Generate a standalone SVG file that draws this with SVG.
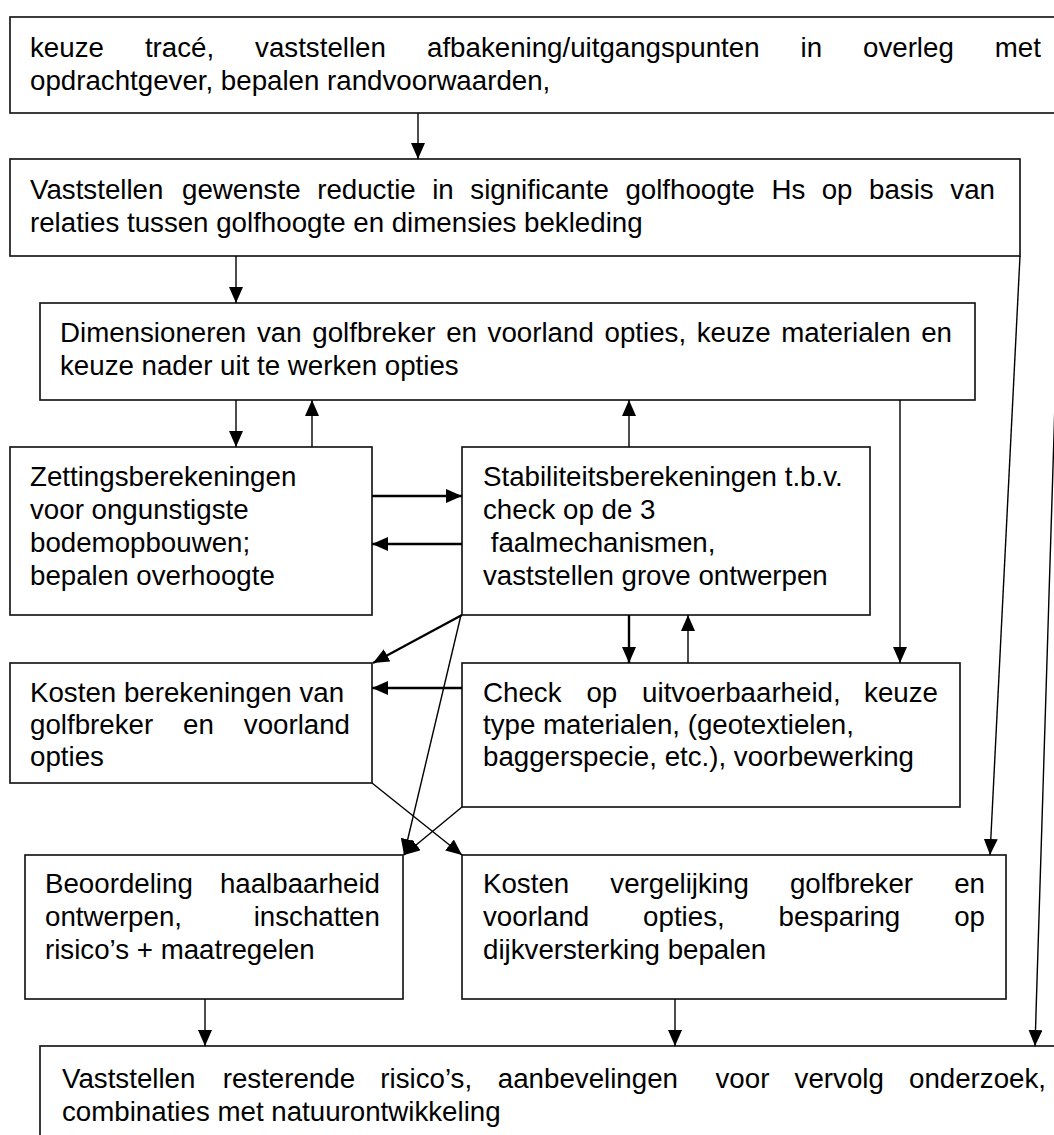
<svg xmlns="http://www.w3.org/2000/svg" width="1054" height="1135" viewBox="0 0 1054 1135">
<style>
.box{fill:#fff;stroke:#1a1a1a;stroke-width:1.7}
text{font-family:"Liberation Sans",Arial,sans-serif;font-size:27.7px;fill:#000}
.c{fill:none;stroke:#000;stroke-width:1.4}
.t{stroke-width:2.4}
</style>
<defs>
<marker id="ah" markerUnits="userSpaceOnUse" markerWidth="16" markerHeight="14" refX="16" refY="7" orient="auto">
<path d="M0,0 L16,7 L0,14 z" fill="#000"/>
</marker>
</defs>
<rect width="1054" height="1135" fill="#fff"/>

<g id="n1">
<rect class="box" x="10" y="17" width="1070" height="96"/>
<text y="57"><tspan x="30">keuze</tspan><tspan x="144.9">tracé,</tspan><tspan x="255.1">vaststellen</tspan><tspan x="427">afbakening/uitgangspunten</tspan><tspan x="800.5">in</tspan><tspan x="863">overleg</tspan><tspan x="994.8">met</tspan></text>
<text x="30" y="90">opdrachtgever, bepalen randvoorwaarden,</text>
</g>

<g id="n2">
<rect class="box" x="10" y="159" width="1010" height="97"/>
<text y="199"><tspan x="30">Vaststellen</tspan><tspan x="182">gewenste</tspan><tspan x="317.2">reductie</tspan><tspan x="432.2">in</tspan><tspan x="470.3">significante</tspan><tspan x="625.4">golfhoogte</tspan><tspan x="771.4">Hs</tspan><tspan x="821.7">op</tspan><tspan x="869">basis</tspan><tspan x="950.3">van</tspan></text>
<text x="30" y="232">relaties tussen golfhoogte en dimensies bekleding</text>
</g>

<g id="n3">
<rect class="box" x="40" y="303" width="935" height="97"/>
<text y="342"><tspan x="60">Dimensioneren</tspan><tspan x="257">van</tspan><tspan x="312.3">golfbreker</tspan><tspan x="446.2">en</tspan><tspan x="487.6">voorland</tspan><tspan x="604.5">opties,</tspan><tspan x="696.7">keuze</tspan><tspan x="781.3">materialen</tspan><tspan x="921.2">en</tspan></text>
<text x="60" y="375">keuze nader uit te werken opties</text>
</g>

<g id="n4">
<rect class="box" x="10" y="447" width="362" height="168"/>
<text x="30" y="486">Zettingsberekeningen</text>
<text x="30" y="519">voor ongunstigste</text>
<text x="30" y="552">bodemopbouwen;</text>
<text x="30" y="585">bepalen overhoogte</text>
</g>

<g id="n5">
<rect class="box" x="462" y="447" width="408" height="168"/>
<text x="483" y="486">Stabiliteitsberekeningen t.b.v.</text>
<text x="483" y="519">check op de 3</text>
<text x="490.7" y="552">faalmechanismen,</text>
<text x="483" y="585">vaststellen grove ontwerpen</text>
</g>

<g id="n6">
<rect class="box" x="10" y="663" width="362" height="120"/>
<text x="30" y="702">Kosten berekeningen van</text>
<text y="734"><tspan x="30">golfbreker</tspan><tspan x="183.1">en</tspan><tspan x="243.8">voorland</tspan></text>
<text x="30" y="766">opties</text>
</g>

<g id="n7">
<rect class="box" x="462" y="663" width="498" height="144"/>
<text y="702"><tspan x="483">Check</tspan><tspan x="586.4">op</tspan><tspan x="642.1">uitvoerbaarheid,</tspan><tspan x="864.1">keuze</tspan></text>
<text x="483" y="734">type materialen, (geotextielen,</text>
<text x="483" y="766">baggerspecie, etc.), voorbewerking</text>
</g>

<g id="n8">
<rect class="box" x="25" y="855" width="378" height="144"/>
<text y="893"><tspan x="45">Beoordeling</tspan><tspan x="219.9">haalbaarheid</tspan></text>
<text y="926"><tspan x="45">ontwerpen,</tspan><tspan x="253.7">inschatten</tspan></text>
<text x="45" y="959">risico’s + maatregelen</text>
</g>

<g id="n9">
<rect class="box" x="462" y="855" width="544" height="144"/>
<text y="893"><tspan x="483">Kosten</tspan><tspan x="610.3">vergelijking</tspan><tspan x="789.9">golfbreker</tspan><tspan x="954.2">en</tspan></text>
<text y="926"><tspan x="483">voorland</tspan><tspan x="643.1">opties,</tspan><tspan x="778.6">besparing</tspan><tspan x="954.2">op</tspan></text>
<text x="483" y="959">dijkversterking bepalen</text>
</g>

<g id="n10">
<rect class="box" x="40" y="1046" width="1040" height="120"/>
<text y="1088"><tspan x="62">Vaststellen</tspan><tspan x="222.7">resterende</tspan><tspan x="380.3">risico’s,</tspan><tspan x="497.8">aanbevelingen</tspan><tspan x="715.5">voor</tspan><tspan x="794.6">vervolg</tspan><tspan x="909">onderzoek,</tspan></text>
<text x="62" y="1121">combinaties met natuurontwikkeling</text>
</g>

<g id="connectors">
<line class="c" x1="418" y1="113" x2="418" y2="159" marker-end="url(#ah)"/>
<line class="c" x1="236" y1="256" x2="236" y2="303" marker-end="url(#ah)"/>
<line class="c" x1="236" y1="400" x2="236" y2="447" marker-end="url(#ah)"/>
<line class="c" x1="312" y1="447" x2="312" y2="400" marker-end="url(#ah)"/>
<line class="c" x1="629" y1="447" x2="629" y2="400" marker-end="url(#ah)"/>
<line class="c t" x1="372" y1="496" x2="462" y2="496" marker-end="url(#ah)"/>
<line class="c t" x1="462" y1="544" x2="372" y2="544" marker-end="url(#ah)"/>
<line class="c" x1="900" y1="400" x2="900" y2="663" marker-end="url(#ah)"/>
<line class="c" x1="1020" y1="256" x2="990" y2="855" marker-end="url(#ah)"/>
<line class="c" x1="1064" y1="113" x2="1035" y2="1046" marker-end="url(#ah)"/>
<line class="c t" x1="462" y1="615" x2="373" y2="663" marker-end="url(#ah)"/>
<line class="c" x1="461" y1="615" x2="404" y2="855" marker-end="url(#ah)"/>
<line class="c t" x1="629" y1="615" x2="629" y2="663" marker-end="url(#ah)"/>
<line class="c" x1="688" y1="663" x2="688" y2="615" marker-end="url(#ah)"/>
<line class="c t" x1="462" y1="688" x2="372" y2="688" marker-end="url(#ah)"/>
<line class="c" x1="372" y1="783" x2="462" y2="855" marker-end="url(#ah)"/>
<line class="c" x1="462" y1="807" x2="404" y2="855" marker-end="url(#ah)"/>
<line class="c" x1="205" y1="999" x2="205" y2="1046" marker-end="url(#ah)"/>
<line class="c" x1="675" y1="999" x2="675" y2="1046" marker-end="url(#ah)"/>
</g>
</svg>
